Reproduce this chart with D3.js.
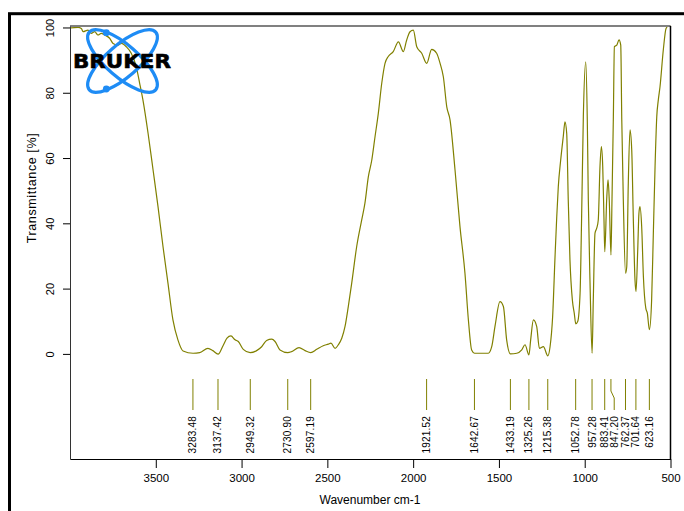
<!DOCTYPE html>
<html>
<head>
<meta charset="utf-8">
<script src="https://cdn.jsdelivr.net/npm/d3@7"></script>
<style>
  html, body { margin: 0; padding: 0; background: #fff; }
  svg { display: block; }
  text { font-family: "Liberation Sans", Arial, sans-serif; fill: #000; }
</style>
</head>
<body>
<svg id="chart" width="684" height="511"></svg>
<script>
// IR spectrum: wavenumber (cm-1) and transmittance (%)
const wavenumbers = [
  4000, 3996, 3953, 3934, 3924, 3895, 3876, 3856, 3837, 3818, 3798, 3769, 3749, 3720, 3701, 3672,
  3643, 3614, 3594, 3575, 3545, 3516, 3487, 3458, 3429, 3400, 3371, 3341, 3283, 3244, 3196, 3167,
  3137, 3108, 3085, 3062, 3038, 3019, 2990, 2950, 2912, 2883, 2854, 2824, 2805, 2776, 2731, 2708,
  2665, 2630, 2597, 2562, 2524, 2494, 2479, 2455, 2436, 2416, 2397, 2378, 2358, 2329, 2300, 2281,
  2261, 2241, 2222, 2203, 2183, 2164, 2145, 2116, 2086, 2057, 2038, 2018, 1999, 1979, 1950, 1921,
  1892, 1863, 1843, 1824, 1804, 1785, 1756, 1727, 1698, 1678, 1659, 1642, 1600, 1562, 1542, 1523,
  1494, 1474, 1455, 1433, 1396, 1367, 1348, 1325, 1315, 1299, 1280, 1264, 1241, 1215, 1202, 1187,
  1173, 1163, 1154, 1140, 1125, 1115, 1105, 1096, 1086, 1072, 1061, 1052, 1041, 1027, 1018, 1008,
  994, 985, 979, 969, 957, 950, 940, 930, 921, 911, 903, 895, 888, 883, 872, 864,
  857, 847, 841, 833, 827, 813, 800, 790, 784, 775, 762, 755, 746, 736, 726, 717,
  707, 701, 691, 684, 678, 668, 658, 644, 635, 623, 610, 600, 590, 580, 571, 561,
  542, 526, 514, 500
];
const transmittance = [
  99.8, 99.9, 100, 99.7, 98.7, 99.2, 98.2, 98.7, 97.7, 98.2, 97.7, 96.7, 95.1, 94.6, 95.1, 94.1,
  92.1, 88, 82.9, 77.8, 67.6, 56.4, 45.1, 32.9, 21.7, 10.4, 4.3, 0.9, 0.2, 0.4, 1.7, 1.0,
  -0.1, 2.5, 4.8, 5.5, 4.3, 3.8, 1.4, 0.4, 1.0, 2.2, 4.1, 4.5, 3.8, 1.2, 0.4, 0.7,
  1.9, 1.0, 0.4, 1.4, 2.5, 3.0, 3.3, 1.7, 2.8, 4.8, 8.4, 14.5, 21.7, 32.9, 41, 46.2,
  54.3, 59.4, 66.6, 73.7, 82.9, 89, 91.1, 92.6, 95.6, 92.6, 96.1, 98.7, 99.2, 94.1, 92.1, 89,
  93.3, 92.1, 89, 84.9, 75.7, 71.7, 56.4, 39, 24.7, 10.4, 1.2, 0.2, 0.2, 0.2, 2.2, 8.4,
  16, 14.5, 4.3, 0, 0.2, 1.2, 2.8, -0.3, 4.3, 10.4, 8.4, 1.7, 2.2, -0.6, 2.2, 11.4,
  29.8, 42, 51.2, 59.4, 66.6, 71.1, 67.6, 47.2, 28.8, 16.5, 12.5, 9.2, 9.9, 18.6, 42, 72.7,
  89.5, 71.7, 47.2, 21.7, 0.2, 16.5, 37, 38.5, 41, 57.4, 63.5, 57.4, 42, 31.3, 47.2, 53.3,
  47.2, 30.3, 47.2, 72.7, 94.1, 94.6, 96.2, 94.6, 71.7, 47.2, 24.7, 26.7, 52.3, 68.6, 62.5, 42,
  22.7, 19.1, 31.9, 43.1, 45.1, 39, 23.7, 14, 12.5, 7.4, 16.5, 37, 57.4, 72.7, 77.8, 81.9,
  93.1, 99.7, 100.4, 100.4
];

// Picked peaks and their printed labels
const peakPositions = [3283.48, 3137.42, 2949.32, 2730.90, 2597.19, 1921.52, 1642.67, 1433.19,
  1325.26, 1215.38, 1052.78, 957.28, 883.41, 847.20, 762.37, 701.64, 623.16];
const peakLabels = ["3283.48", "3137.42", "2949.32", "2730.90", "2597.19", "1921.52", "1642.67",
  "1433.19", "1325.26", "1215.38", "1052.78", "957.28", "883.41", "847.20", "762.37", "701.64", "623.16"];

const xTicks = [3500, 3000, 2500, 2000, 1500, 1000, 500];
const yTicks = [0, 20, 40, 60, 80, 100];

const xTitle = "Wavenumber cm-1";
const yTitle = "Transmittance [%]";

const lineColor = "#808000";

const svg = d3.select("#chart");

const plot = { left: 70, right: 670.5, top: 26, bottom: 459 };

const x = d3.scaleLinear().domain([4000, 500]).range([plot.left, plot.right]);
const y = d3.scaleLinear().domain([-32.2, 100.45]).range([plot.bottom, plot.top]);

// Outer frame (only its top and left sides fall inside the page)
svg.append("rect")
  .attr("x", 9.5).attr("y", 13.7)
  .attr("width", 800).attr("height", 700)
  .attr("fill", "none").attr("stroke", "#000").attr("stroke-width", 3);

// Spectrum trace
const data = wavenumbers.map((w, i) => ({ w, t: transmittance[i] }));
const line = d3.line()
  .x(d => x(d.w))
  .y(d => y(d.t))
  .curve(d3.curveMonotoneX);

svg.append("path")
  .datum(data)
  .attr("d", line)
  .attr("fill", "none")
  .attr("stroke", lineColor)
  .attr("stroke-width", 1.2);

// Plot box
svg.append("line").attr("x1", plot.left).attr("x2", plot.right)
  .attr("y1", plot.top).attr("y2", plot.top)
  .attr("stroke", "#808080").attr("stroke-width", 2);

const xAxis = d3.axisBottom(x).tickValues(xTicks).tickSize(9).tickSizeOuter(0)
  .tickPadding(6).tickFormat(d3.format("d"));
const gx = svg.append("g").attr("transform", `translate(0,${plot.bottom})`).call(xAxis);
gx.select(".domain").attr("stroke", "#000");
gx.selectAll(".tick line").attr("stroke", "#000");
gx.selectAll(".tick text")
  .attr("font-size", 11.5)
  .attr("font-family", "Liberation Sans, Arial, sans-serif")
  .attr("fill", "#000");

const yAxis = d3.axisLeft(y).tickValues(yTicks).tickSize(7).tickSizeOuter(0).tickFormat(d3.format("d"));
const gy = svg.append("g").attr("transform", `translate(${plot.left},0)`).call(yAxis);
gy.select(".domain").attr("stroke", "#333");
gy.selectAll(".tick line").attr("stroke", "#000");
gy.selectAll(".tick text")
  .attr("font-size", 11)
  .attr("font-family", "Liberation Sans, Arial, sans-serif")
  .attr("fill", "#000")
  .attr("text-anchor", "middle")
  .attr("x", null)
  .attr("transform", "translate(-20,0) rotate(-90)")
  .attr("dy", "0.35em");

svg.append("line").attr("x1", plot.right).attr("x2", plot.right)
  .attr("y1", plot.top).attr("y2", plot.bottom)
  .attr("stroke", "#000").attr("stroke-width", 1.5);

// Axis titles
svg.append("text")
  .attr("x", 370).attr("y", 504)
  .attr("text-anchor", "middle")
  .attr("font-size", 12)
  .text(xTitle);

svg.append("text")
  .attr("transform", "translate(36,188) rotate(-90)")
  .attr("text-anchor", "middle")
  .attr("font-size", 12.5)
  .attr("letter-spacing", 0.6)
  .text(yTitle);

// Peak markers: labels are nudged apart where peaks crowd together
const peaks = peakPositions.map((w, i) => ({ w, label: peakLabels[i], px: x(w) }))
  .sort((a, b) => a.px - b.px);
const minGap = 9.5;
peaks.forEach((p, i) => {
  p.lx = p.px;
  if (i > 0 && p.lx - peaks[i - 1].lx < minGap) p.lx = peaks[i - 1].lx + minGap;
});

const pk = svg.append("g");
pk.selectAll("path")
  .data(peaks)
  .join("path")
  .attr("d", p => p.lx === p.px
    ? `M${p.px},379V410`
    : `M${p.px},379V391L${p.lx},398V410`)
  .attr("fill", "none")
  .attr("stroke", lineColor)
  .attr("stroke-width", 1);

pk.selectAll("text")
  .data(peaks)
  .join("text")
  .attr("transform", p => `translate(${p.lx},416) rotate(-90)`)
  .attr("text-anchor", "end")
  .attr("dy", "0.35em")
  .attr("font-size", 10)
  .attr("letter-spacing", 0.2)
  .text(p => p.label);

// Logo
const logo = svg.append("g");
const cx = 122.5, cy = 61;
[41, -41].forEach(a => {
  logo.append("ellipse")
    .attr("cx", 0).attr("cy", 0)
    .attr("rx", 44).attr("ry", 16)
    .attr("transform", `translate(${cx},${cy}) rotate(${a})`)
    .attr("fill", "none")
    .attr("stroke", "#1e8cf5")
    .attr("stroke-width", 3.2);
});
logo.append("circle").attr("cx", 106.3).attr("cy", 32.7).attr("r", 3.4).attr("fill", "#1e8cf5");
logo.append("circle").attr("cx", 106.3).attr("cy", 89).attr("r", 3.4).attr("fill", "#1e8cf5");
logo.append("text")
  .attr("x", 73).attr("y", 67.7)
  .attr("font-weight", "bold")
  .attr("font-size", 20)
  .attr("textLength", 98)
  .attr("lengthAdjust", "spacingAndGlyphs")
  .attr("stroke", "#000").attr("stroke-width", 0.6)
  .style("font-family", "DejaVu Sans, sans-serif")
  .text("BRUKER");
</script>
</body>
</html>
